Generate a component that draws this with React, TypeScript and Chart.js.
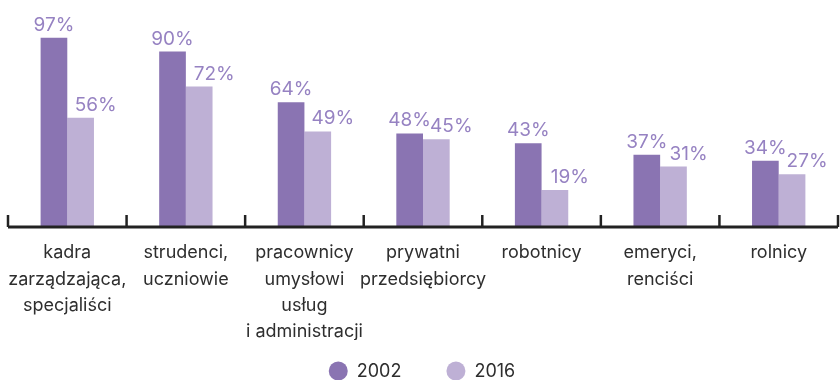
import React, { useEffect, useRef } from "react";
import { Chart, registerables } from "chart.js";

Chart.register(...registerables);

const categories: string[][] = [
  ["kadra", "zarządzająca,", "specjaliści"],
  ["strudenci,", "uczniowie"],
  ["pracownicy", "umysłowi", "usług", "i administracji"],
  ["prywatni", "przedsiębiorcy"],
  ["robotnicy"],
  ["emeryci,", "renciści"],
  ["rolnicy"],
];
const values2002: number[] = [97, 90, 64, 48, 43, 37, 34];
const values2016: number[] = [56, 72, 49, 45, 19, 31, 27];
const seriesLabels: string[] = ["2002", "2016"];

const DARK = "#8a74b2";
const LIGHT = "#beb0d5";
const LABEL_COLOR = "#9682c2";
const TEXT = "#2e2e2e";
const FONT = "Inter, 'Liberation Sans', Arial, sans-serif";

const valueLabels = {
  id: "valueLabels",
  afterDatasetsDraw(chart: any) {
    const ctx = chart.ctx;
    ctx.save();
    ctx.font = `19px ${FONT}`;
    ctx.fillStyle = LABEL_COLOR;
    ctx.textAlign = "center";
    ctx.textBaseline = "alphabetic";
    chart.data.datasets.forEach((ds: any, di: number) => {
      const meta = chart.getDatasetMeta(di);
      const dx = di === 1 ? 15 : 0;
      meta.data.forEach((bar: any, i: number) => {
        ctx.fillText(`${ds.data[i]}%`, bar.x + dx, bar.y - 7);
      });
    });
    ctx.restore();
  },
};

const axisLine = {
  id: "axisLine",
  afterDatasetsDraw(chart: any) {
    const { ctx, chartArea } = chart;
    const xs = chart.scales.x;
    const n = chart.data.labels.length;
    const y = chartArea.bottom;
    ctx.save();
    ctx.strokeStyle = "#222222";
    ctx.lineWidth = 3;
    ctx.beginPath();
    ctx.moveTo(xs.left, y);
    ctx.lineTo(xs.right, y);
    ctx.stroke();
    ctx.lineWidth = 2.5;
    for (let i = 0; i <= n; i++) {
      const x = xs.left + (i * (xs.right - xs.left)) / n;
      ctx.beginPath();
      ctx.moveTo(x, y);
      ctx.lineTo(x, y - 12);
      ctx.stroke();
    }
    ctx.restore();
  },
};

const customLegend = {
  id: "customLegend",
  afterDraw(chart: any) {
    const ctx = chart.ctx;
    const r = 9.5;
    const gapText = 9;
    const gapItems = 45;
    const cy = chart.height - 9;
    ctx.save();
    ctx.font = `18px ${FONT}`;
    ctx.textBaseline = "middle";
    ctx.textAlign = "left";
    const items = chart.data.datasets.map((ds: any) => ({
      label: ds.label,
      color: ds.backgroundColor,
      w: 2 * r + gapText + ctx.measureText(ds.label).width,
    }));
    const total = items.reduce((s: number, it: any) => s + it.w, 0) + gapItems * (items.length - 1);
    let x = chart.width / 2 + 2 - total / 2;
    items.forEach((it: any) => {
      ctx.fillStyle = it.color;
      ctx.beginPath();
      ctx.arc(x + r, cy, r, 0, Math.PI * 2);
      ctx.fill();
      ctx.fillStyle = TEXT;
      ctx.fillText(it.label, x + 2 * r + gapText, cy + 1);
      x += it.w + gapItems;
    });
    ctx.restore();
  },
};

export default function App() {
  const ref = useRef<HTMLCanvasElement | null>(null);
  useEffect(() => {
    document.body.style.margin = "0";
    if (!ref.current) return;
    const chart = new Chart(ref.current, {
      type: "bar",
      data: {
        labels: categories,
        datasets: [
          { label: seriesLabels[0], data: values2002, backgroundColor: DARK, borderWidth: 0 },
          { label: seriesLabels[1], data: values2016, backgroundColor: LIGHT, borderWidth: 0 },
        ],
      },
      options: {
        animation: false,
        responsive: false,
        maintainAspectRatio: false,
        layout: { padding: { top: 32, left: 8, right: 2, bottom: 40 } },
        datasets: { bar: { categoryPercentage: 0.45, barPercentage: 1 } },
        scales: {
          x: {
            grid: { display: false, drawTicks: false },
            border: { display: false },
            ticks: {
              color: TEXT,
              font: { size: 18, family: FONT, lineHeight: 1.45 },
              padding: 13,
              maxRotation: 0,
              autoSkip: false,
            },
            afterFit(scale: any) {
              scale.height = 113;
              scale.paddingLeft = 0;
              scale.paddingRight = 0;
            },
          },
          y: {
            display: false,
            min: 0,
            max: 100,
          },
        },
        plugins: {
          legend: { display: false },
          tooltip: { enabled: false },
        },
      },
      plugins: [valueLabels, axisLine, customLegend],
    });
    return () => chart.destroy();
  }, []);
  return (
    <div style={{ width: 840, height: 380 }}>
      <canvas ref={ref} width={840} height={380} style={{ display: "block" }} />
    </div>
  );
}
